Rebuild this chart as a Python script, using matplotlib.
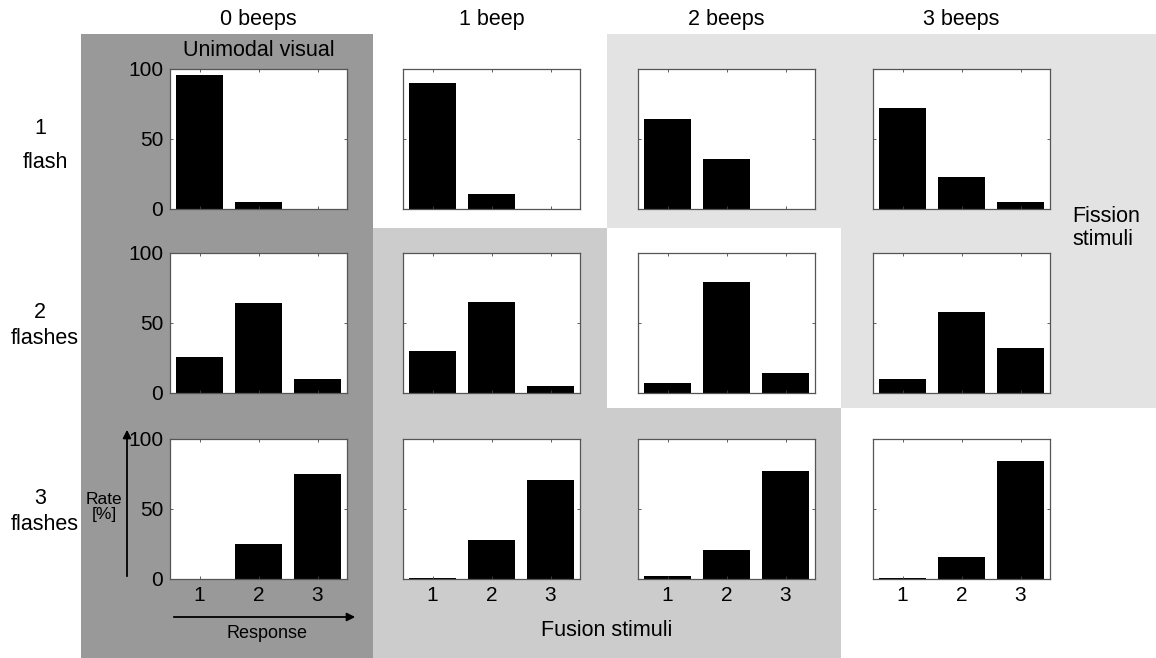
import matplotlib.pyplot as plt
from matplotlib.patches import Rectangle

plt.rcParams['font.family'] = ['Liberation Sans', 'DejaVu Sans']

# response rates [%] for responses 1, 2, 3 ; rows = flashes, cols = beeps
responses = [1, 2, 3]
beep_labels = ['0 beeps', '1 beep', '2 beeps', '3 beeps']
flash_numbers = ['1', '2', '3']
flash_words = ['flash', 'flashes', 'flashes']
rates_1flash = [[96, 5, 0], [90, 11, 0], [64, 36, 0], [72, 23, 5]]
rates_2flash = [[26, 64, 10], [30, 65, 5], [7, 79, 14], [10, 58, 32]]
rates_3flash = [[0, 25, 75], [1, 28, 71], [2, 21, 77], [1, 16, 84]]
all_rates = [rates_1flash, rates_2flash, rates_3flash]

W, H = 1156, 658
fig = plt.figure(figsize=(W / 100, H / 100), dpi=100)

# background layer in pixel coordinates
bg = fig.add_axes([0, 0, 1, 1])
bg.set_xlim(0, W)
bg.set_ylim(H, 0)
bg.axis('off')

dark, mid, light = '#999999', '#cccccc', '#e3e3e3'
bg.add_patch(Rectangle((81, 34), 292, H - 34, color=dark, lw=0))
# fusion region
bg.add_patch(Rectangle((373, 228), 234, 180, color=mid, lw=0))
bg.add_patch(Rectangle((373, 408), 468, H - 408, color=mid, lw=0))
# fission region
bg.add_patch(Rectangle((607, 34), W - 607, 194, color=light, lw=0))
bg.add_patch(Rectangle((841, 228), W - 841, 180, color=light, lw=0))

col_left = [170, 403, 638, 873]
row_top = [69, 253, 439]
aw, ah = 177, 140

for r, row_rates in enumerate(all_rates):
    for c, vals in enumerate(row_rates):
        ax = fig.add_axes([col_left[c] / W, 1 - (row_top[r] + ah) / H, aw / W, ah / H])
        ax.bar(responses, vals, width=0.8, color='black', edgecolor='none')
        ax.set_xlim(0.5, 3.5)
        ax.set_ylim(0, 100)
        ax.set_xticks(responses)
        ax.set_yticks([0, 50, 100])
        ax.tick_params(direction='in', length=2.5, width=0.6, color='#444444',
                       top=True, right=True, labelsize=15, pad=5)
        for s in ax.spines.values():
            s.set_color('#555555')
            s.set_linewidth(0.9)
        if c != 0:
            ax.set_yticklabels([])
        if r != 2:
            ax.set_xticklabels([])

# column / row labels
for c, lab in enumerate(beep_labels):
    bg.text(col_left[c] + aw / 2, 20, lab, ha='center', va='center', fontsize=15.5)
num_y = [128, 313, 498]
word_y = [162, 338, 524]
for r in range(3):
    bg.text(40, num_y[r], flash_numbers[r], ha='center', va='center', fontsize=15.5)
    bg.text(45, word_y[r], flash_words[r], ha='center', va='center', fontsize=15.5)

bg.text(259, 50, 'Unimodal visual', ha='center', va='center', fontsize=15.5)
bg.text(1072, 228, 'Fission\nstimuli', ha='left', va='center', fontsize=15.5,
        linespacing=1.1)
bg.text(607, 631, 'Fusion stimuli', ha='center', va='center', fontsize=15.5)

# axis arrows
bg.annotate('', xy=(358, 617), xytext=(171, 617),
            arrowprops=dict(arrowstyle='-|>', color='black', lw=1.3, mutation_scale=12))
bg.annotate('', xy=(127, 427), xytext=(127, 579),
            arrowprops=dict(arrowstyle='-|>', color='black', lw=1.3, mutation_scale=12))
bg.text(267, 633, 'Response', ha='center', va='center', fontsize=13)
bg.text(104, 507, 'Rate\n[%]', ha='center', va='center', fontsize=12.5, linespacing=1.0)

fig.savefig('out.png', dpi=100)
